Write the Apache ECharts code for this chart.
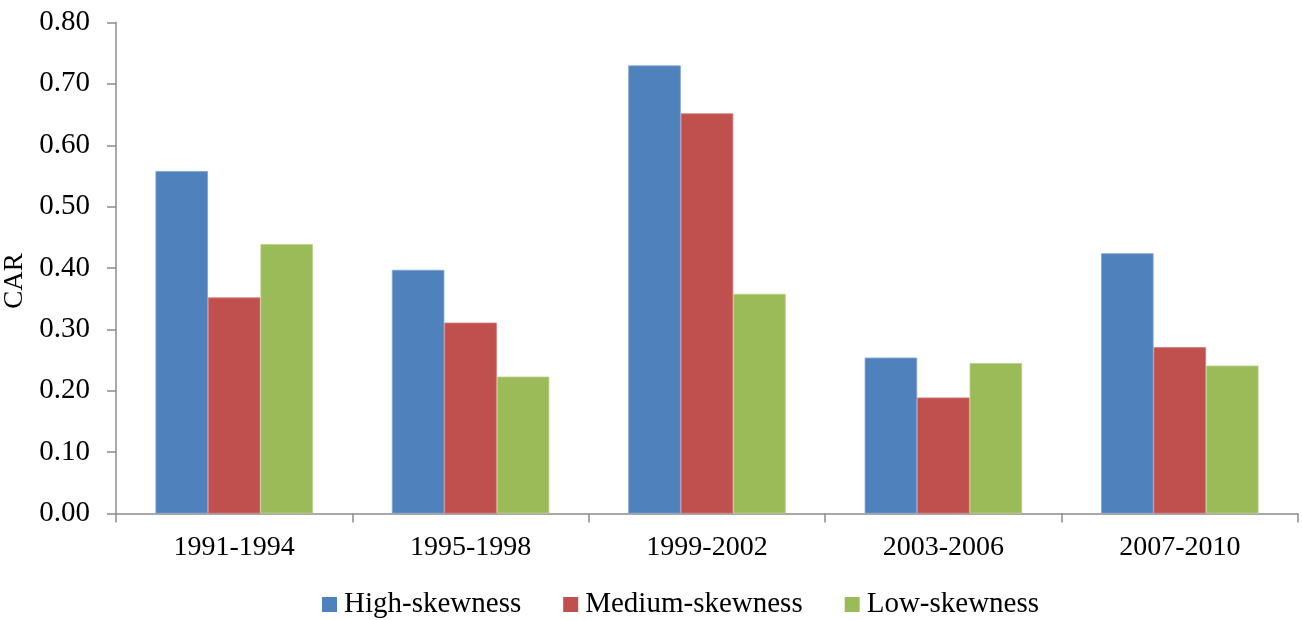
<!DOCTYPE html>
<html>
<head>
<meta charset="utf-8">
<script src="https://cdn.jsdelivr.net/npm/echarts@6/dist/echarts.min.js"></script>
<style>html,body{margin:0;padding:0;background:#fff}#c{width:1302px;height:620px}</style>
</head>
<body>
<div id="c"></div>
<script>
var categories = ['1991-1994', '1995-1998', '1999-2002', '2003-2006', '2007-2010'];
var seriesNames = ['High-skewness', 'Medium-skewness', 'Low-skewness'];
var highValues = [0.558, 0.397, 0.730, 0.254, 0.424];
var mediumValues = [0.352, 0.311, 0.652, 0.189, 0.271];
var lowValues = [0.439, 0.223, 0.358, 0.245, 0.241];
var yTicks = { min: 0, max: 0.8, interval: 0.1 };

var colors = ['#4F81BD', '#C0504D', '#9BBB59'];
var borders = ['#7FA3D3', '#D27B78', '#B9D08A'];
var font = '"Liberation Serif", "Times New Roman", serif';
var values = [highValues, mediumValues, lowValues];

var chart = echarts.init(document.getElementById('c'), null, { renderer: 'canvas' });
chart.setOption({
  animation: false,
  backgroundColor: '#fff',
  grid: { left: 116, right: 4, top: 22.5, bottom: 106.5, containLabel: false, outerBoundsMode: 'none' },
  legend: {
    data: seriesNames,
    left: 322,
    top: 590,
    padding: 0,
    itemWidth: 15,
    itemHeight: 15,
    itemGap: 42,
    icon: 'rect',
    itemStyle: { borderWidth: 0 },
    textStyle: { fontFamily: font, fontSize: 29, color: '#000', padding: [0, 0, 0, 2] }
  },
  xAxis: {
    type: 'category',
    data: categories,
    axisLine: { show: true, lineStyle: { color: '#8c8c8c', width: 1.5 } },
    axisTick: { show: true, length: 9, lineStyle: { color: '#8c8c8c', width: 1.5 } },
    axisLabel: { fontFamily: font, fontSize: 28, color: '#000', margin: 20 }
  },
  yAxis: {
    type: 'value',
    min: yTicks.min,
    max: yTicks.max,
    interval: yTicks.interval,
    name: 'CAR',
    nameLocation: 'middle',
    nameRotate: 90,
    nameGap: 84,
    nameTextStyle: { fontFamily: font, fontSize: 27, color: '#000', padding: [0, 26, 0, 0] },
    splitLine: { show: false },
    axisLine: { show: true, lineStyle: { color: '#8c8c8c', width: 1.5 } },
    axisTick: { show: true, length: 9, lineStyle: { color: '#8c8c8c', width: 1.5 } },
    axisLabel: {
      fontFamily: font, fontSize: 29, color: '#000', margin: 26,
      formatter: function (v) { return v.toFixed(2); }
    }
  },
  series: seriesNames.map(function (n, i) {
    return {
      name: n,
      type: 'bar',
      data: values[i],
      barWidth: '22.2%',
      barGap: '0%',
      itemStyle: { color: colors[i], borderColor: borders[i], borderWidth: 0.8 }
    };
  })
});
</script>
</body>
</html>
